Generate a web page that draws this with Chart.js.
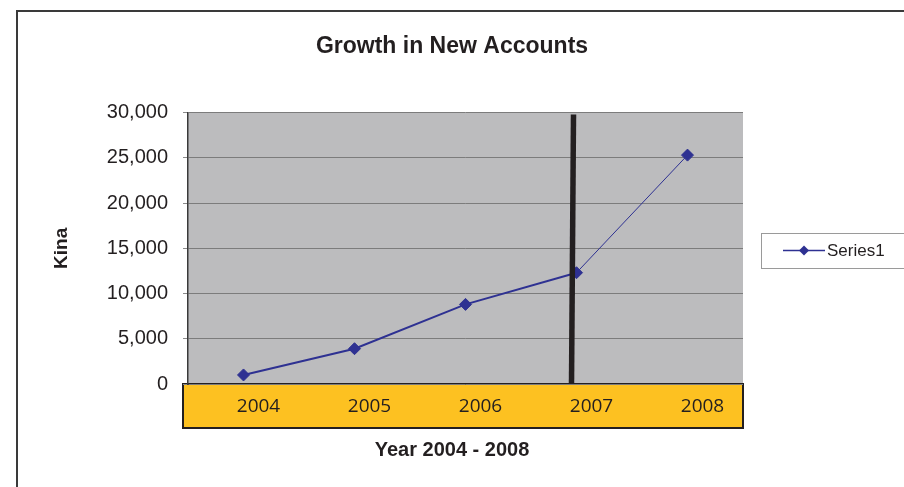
<!DOCTYPE html>
<html>
<head>
<meta charset="utf-8">
<title>Growth in New Accounts</title>
<script src="https://cdn.jsdelivr.net/npm/chart.js@4/dist/chart.umd.min.js"></script>
<style>
  html, body { margin: 0; padding: 0; background: #fff; }
  canvas { display: block; }
</style>
</head>
<body>
<canvas id="accounts" width="904" height="487"></canvas>
<script>
const years = ['2004', '2005', '2006', '2007', '2008'];
const newAccounts = [1000, 3900, 8800, 12300, 25300];
const kinaTicks = [0, 5000, 10000, 15000, 20000, 25000, 30000];
const seriesName = 'Series1';
const markedYear = '2007';

const NAVY = '#2e3192';
const INK = '#231f20';

// grey plot background, outer frame, yellow category band
const backdrop = {
  id: 'backdrop',
  beforeDraw(chart) {
    const { ctx, chartArea } = chart;
    const x = chart.scales.x;
    ctx.save();
    ctx.fillStyle = '#bcbcbe';
    ctx.fillRect(chartArea.left, chartArea.top, chartArea.right - chartArea.left, chartArea.bottom - chartArea.top);

    ctx.strokeStyle = '#3a3a3a';
    ctx.lineWidth = 2;
    ctx.strokeRect(17, 11, chart.width, chart.height);

    ctx.fillStyle = '#fdc121';
    ctx.fillRect(x.left - 5, x.top, x.right - x.left + 5, x.bottom - x.top);
    ctx.strokeStyle = INK;
    ctx.lineWidth = 2;
    ctx.strokeRect(x.left - 5, x.top, x.right - x.left + 5, x.bottom - x.top);
    ctx.restore();
  }
};

// heavy marker line at 2007 and the boxed legend
const overlay = {
  id: 'overlay',
  afterDatasetsDraw(chart) {
    const { ctx, chartArea } = chart;
    const px = chart.scales.x.getPixelForValue(years.indexOf(markedYear));
    ctx.save();
    ctx.strokeStyle = INK;
    ctx.lineWidth = 5.5;
    ctx.beginPath();
    ctx.moveTo(px - 3, chartArea.top + 2);
    ctx.lineTo(px - 5, chartArea.bottom);
    ctx.stroke();
    ctx.restore();
  },
  afterDraw(chart) {
    const { ctx } = chart;
    const ds = chart.data.datasets[0];
    const bx = 761, by = 233, bh = 35;
    ctx.save();
    ctx.strokeStyle = '#9a9a9a';
    ctx.lineWidth = 1;
    ctx.strokeRect(bx + 0.5, by + 0.5, 200, bh);

    const cy = by + bh / 2;
    ctx.strokeStyle = ds.borderColor;
    ctx.lineWidth = 1.5;
    ctx.beginPath();
    ctx.moveTo(bx + 22, cy);
    ctx.lineTo(bx + 64, cy);
    ctx.stroke();
    ctx.fillStyle = ds.backgroundColor;
    ctx.beginPath();
    ctx.moveTo(bx + 43, cy - 5);
    ctx.lineTo(bx + 48, cy);
    ctx.lineTo(bx + 43, cy + 5);
    ctx.lineTo(bx + 38, cy);
    ctx.closePath();
    ctx.fill();

    ctx.fillStyle = INK;
    ctx.font = '17px "Liberation Sans", Arial, sans-serif';
    ctx.textBaseline = 'middle';
    ctx.fillText(ds.label, bx + 66, cy + 1);
    ctx.restore();
  }
};

new Chart(document.getElementById('accounts').getContext('2d'), {
  type: 'line',
  data: {
    labels: years,
    datasets: [{
      label: seriesName,
      data: newAccounts,
      borderColor: NAVY,
      backgroundColor: NAVY,
      borderWidth: 2,
      segment: {
        borderWidth: (ctx) => ctx.p0DataIndex === 3 ? 1 : 2
      },
      pointStyle: 'rectRot',
      pointRadius: 6,
      pointBorderWidth: 1,
      pointBackgroundColor: NAVY,
      pointBorderColor: NAVY,
      tension: 0,
      fill: false
    }]
  },
  options: {
    responsive: false,
    animation: false,
    layout: {
      padding: 0
    },
    scales: {
      x: {
        offset: true,
        afterFit: (scale) => { scale.height = 44; },
        grid: { display: false, drawTicks: false },
        border: { display: false },
        ticks: {
          color: INK,
          padding: 11,
          labelOffset: 15,
          maxRotation: 0,
          font: { family: '"Open Sans", "Noto Sans", sans-serif', size: 19 }
        }
      },
      y: {
        min: 0,
        max: 30000,
        afterFit: (scale) => { scale.width = 188; },
        afterBuildTicks: (scale) => {
          scale.ticks = kinaTicks.map((v) => ({ value: v }));
        },
        grid: {
          color: '#7c7c7c',
          lineWidth: 1,
          tickLength: 5,
          tickColor: '#8a8a8a'
        },
        border: { display: true, color: '#3a3a3a', width: 1.5 },
        ticks: {
          color: INK,
          padding: 15,
          font: { family: '"Liberation Sans", Arial, sans-serif', size: 20 },
          callback: (value) => new Intl.NumberFormat('en-US').format(value)
        },
        title: {
          display: true,
          text: 'Kina',
          color: INK,
          padding: { top: 50, bottom: 0 },
          font: { family: '"Liberation Sans", Arial, sans-serif', size: 19, weight: 'bold' }
        }
      },
      // empty right-hand column that holds the legend box
      legendSpace: {
        type: 'linear',
        position: 'right',
        display: true,
        afterFit: (scale) => { scale.width = 161; },
        grid: { display: false, drawTicks: false },
        border: { display: false },
        ticks: { display: false }
      }
    },
    plugins: {
      legend: { display: false },
      tooltip: { enabled: false },
      title: {
        display: true,
        text: 'Growth in New Accounts',
        color: INK,
        padding: { top: 33, bottom: 52 },
        font: { family: '"Liberation Sans", Arial, sans-serif', size: 23, weight: 'bold' }
      },
      subtitle: {
        display: true,
        position: 'bottom',
        text: 'Year 2004 - 2008',
        color: INK,
        padding: { top: 10, bottom: 25 },
        font: { family: '"Liberation Sans", Arial, sans-serif', size: 20, weight: 'bold' }
      }
    }
  },
  plugins: [backdrop, overlay]
});
</script>
</body>
</html>
